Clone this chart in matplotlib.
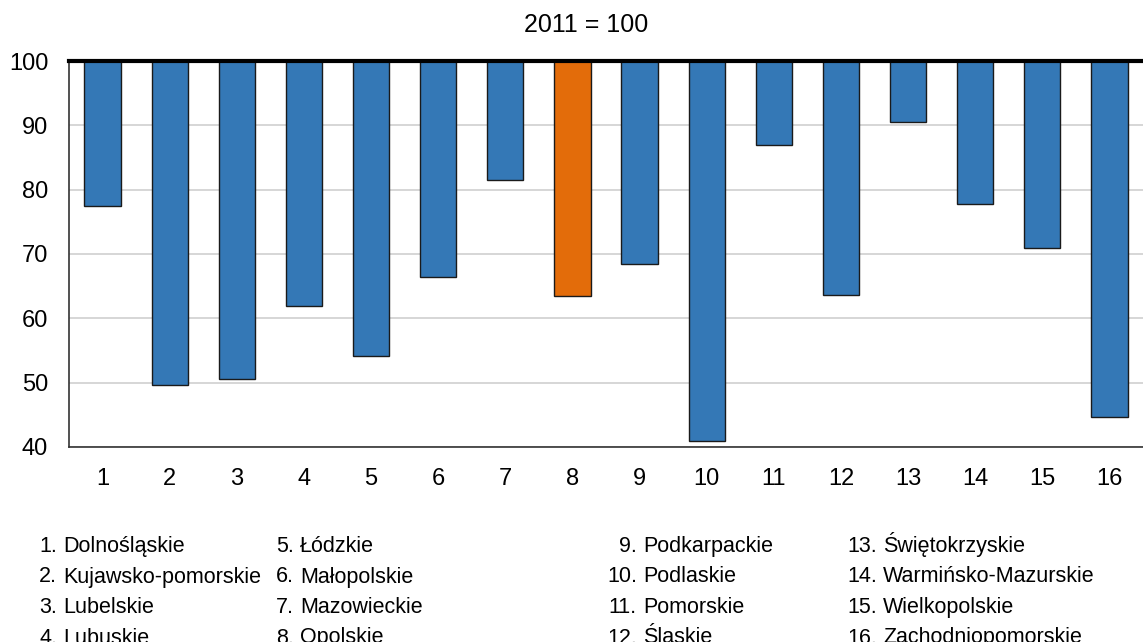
import numpy as np
import matplotlib
matplotlib.use("Agg")
import matplotlib.pyplot as plt

plt.rcParams['font.family'] = ['Liberation Sans', 'DejaVu Sans']

# index values, 2011 = 100
regions = ['1', '2', '3', '4', '5', '6', '7', '8', '9', '10', '11', '12', '13', '14', '15', '16']
values = [77.5, 49.7, 50.6, 61.9, 54.2, 66.5, 81.5, 63.4, 68.4, 40.9, 87.0, 63.6, 90.5, 77.8, 71.0, 44.6]
highlight = '8'

names = ['Dolnośląskie', 'Kujawsko-pomorskie', 'Lubelskie', 'Lubuskie',
         'Łódzkie', 'Małopolskie', 'Mazowieckie', 'Opolskie',
         'Podkarpackie', 'Podlaskie', 'Pomorskie', 'Śląskie',
         'Świętokrzyskie', 'Warmińsko-Mazurskie', 'Wielkopolskie', 'Zachodniopomorskie']

W, H = 1143, 642
fig = plt.figure(figsize=(W / 100, H / 100), dpi=100)
ax = fig.add_axes([69 / W, 1 - 447 / H, (W - 69) / W, (447 - 61) / H])

x = np.arange(len(regions))
base = 100
colors = ['#e36c0a' if r == highlight else '#3478b6' for r in regions]
heights = [v - base for v in values]
ax.bar(x, heights, bottom=base, width=0.54, color=colors, edgecolor='#1a1a1a',
       linewidth=1.0, zorder=3)

ax.set_ylim(40, 100)
ax.set_xlim(-0.5, len(regions) - 0.5)
ax.set_yticks(np.arange(40, 101, 10))
ax.set_xticks(x)
ax.set_xticklabels(regions)
ax.yaxis.grid(True, color='#d0d0d0', linewidth=1.2, zorder=0)
ax.tick_params(axis='both', length=0, labelsize=17, colors='#000000')
ax.tick_params(axis='x', pad=15)
ax.tick_params(axis='y', pad=15)

ax.spines['right'].set_visible(False)
ax.spines['top'].set_color('#000000')
ax.spines['top'].set_linewidth(3)
ax.spines['top'].set_zorder(4)
ax.spines['left'].set_color('#333333')
ax.spines['bottom'].set_color('#333333')
ax.spines['left'].set_linewidth(1.2)
ax.spines['bottom'].set_linewidth(1.2)

fig.text(586 / W, 1 - 25 / H, '2011 = 100', ha='center', va='center', fontsize=18)

# region key below the chart, four columns
name_x = [63, 300, 643, 883]
row_base = [552, 582.5, 613, 643.5]
for i, name in enumerate(names):
    c, r = divmod(i, 4)
    y = 1 - row_base[r] / H
    fig.text((name_x[c] - 6) / W, y, f'{i + 1}.', ha='right', va='baseline', fontsize=15.5)
    fig.text(name_x[c] / W, y, name, ha='left', va='baseline', fontsize=15.5)

fig.savefig('out.png', dpi=100)
